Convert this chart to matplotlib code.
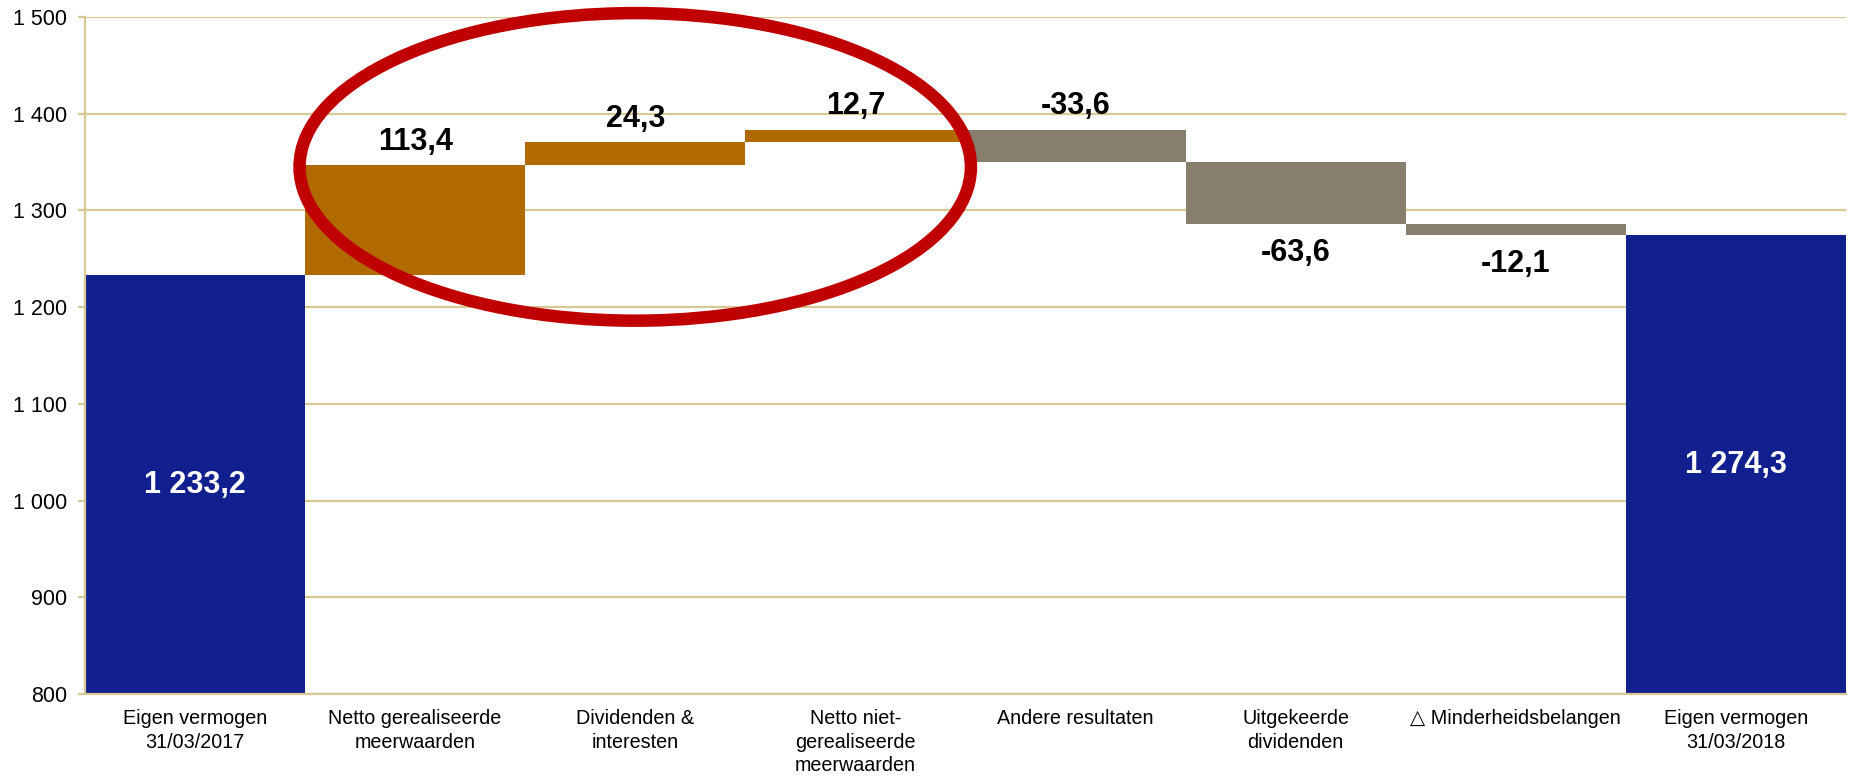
import matplotlib.pyplot as plt
from matplotlib.patches import Ellipse
from matplotlib.ticker import FuncFormatter

plt.rcParams['font.family'] = ['Liberation Sans', 'DejaVu Sans']

# data
categories = ['Eigen vermogen\n31/03/2017',
              'Netto gerealiseerde\nmeerwaarden',
              'Dividenden &\ninteresten',
              'Netto niet-\ngerealiseerde\nmeerwaarden',
              'Andere resultaten',
              'Uitgekeerde\ndividenden',
              '\u25b3 Minderheidsbelangen',
              'Eigen vermogen\n31/03/2018']
start_value = 1233.2
changes = [113.4, 24.3, 12.7, -33.6, -63.6, -12.1]
end_value = 1274.3

blue = '#121F8E'
orange = '#B06A00'
grey = '#877E6E'
tan = '#D9C894'


def fmt(v):
    return '{:,.1f}'.format(v).replace(',', ' ').replace('.', ',')


fig = plt.figure(figsize=(18.5, 7.79), dpi=100)
ax = fig.add_axes([0.0459, 0.1091, 0.9519, 0.8691])

# start bar
ax.bar(0, start_value, width=1.0, color=blue, zorder=2)
ax.text(0, (800 + start_value) / 2, fmt(start_value), ha='center', va='center',
        color='white', fontsize=22, fontweight='bold', zorder=3)

# floating bars
level = start_value
for i, c in enumerate(changes):
    x = i + 1
    col = orange if c > 0 else grey
    bottom = level if c > 0 else level + c
    ax.bar(x, abs(c), bottom=bottom, width=1.0, color=col, zorder=2)
    top = bottom + abs(c)
    # first four labels sit above the bar, the last two below
    if i < 4:
        ax.text(x, top + 24, fmt(c), ha='center', va='center',
                fontsize=22, fontweight='bold', zorder=3)
    else:
        ax.text(x, bottom - 30, fmt(c), ha='center', va='center',
                fontsize=22, fontweight='bold', zorder=3)
    level += c

# end bar
ax.bar(7, end_value, width=1.0, color=blue, zorder=2)
ax.text(7, (800 + end_value) / 2, fmt(end_value), ha='center', va='center',
        color='white', fontsize=22, fontweight='bold', zorder=3)

ax.set_xlim(-0.5, 7.5)
ax.set_ylim(800, 1500)
ax.set_yticks(range(800, 1501, 100))
ax.yaxis.set_major_formatter(FuncFormatter(lambda v, p: '{:,.0f}'.format(v).replace(',', ' ')))
ax.set_xticks(range(len(categories)))
ax.set_xticklabels(categories, linespacing=1.3)

ax.yaxis.grid(True, color=tan, linewidth=1.6, zorder=0)
ax.set_axisbelow(True)
for s in ['top', 'right']:
    ax.spines[s].set_visible(False)
for s in ['left', 'bottom']:
    ax.spines[s].set_color(tan)
    ax.spines[s].set_linewidth(1.6)

ax.tick_params(axis='y', length=5, color=tan, width=1.6, pad=8, labelsize=15.5)
ax.tick_params(axis='x', length=0, pad=11, labelsize=14.2)

# red highlight ring
ring = Ellipse((2.0, 1345), width=3.05, height=318, fill=False,
               edgecolor='#C00000', linewidth=9, clip_on=False, zorder=5)
ax.add_patch(ring)

plt.savefig('out.png', dpi=100)
